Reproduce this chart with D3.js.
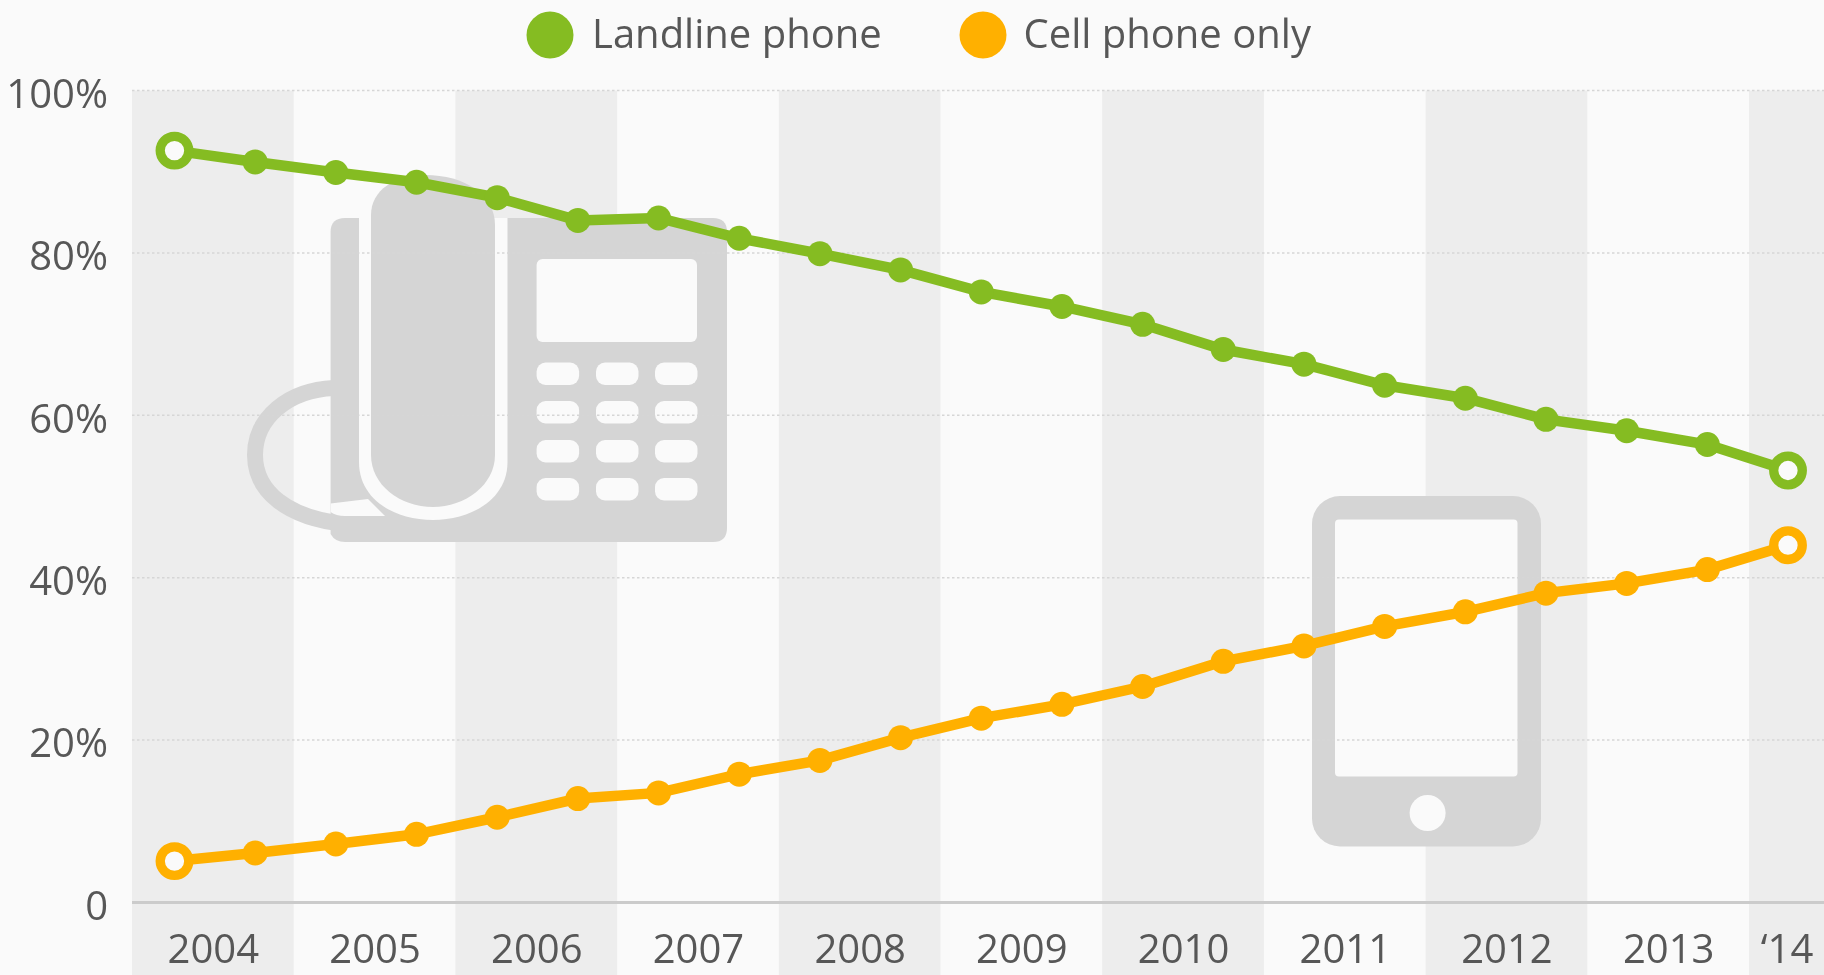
<!DOCTYPE html>
<html><head><meta charset="utf-8">
<script src="https://cdnjs.cloudflare.com/ajax/libs/d3/7.8.5/d3.min.js"></script>
<style>
html,body{margin:0;padding:0;background:#fafafa;overflow:hidden}
svg{display:block;filter:blur(.5px)}
text{font-family:"Open Sans",sans-serif;fill:#575757}
</style></head><body>
<svg id="c" width="1824" height="975"></svg>
<script>
const periods = d3.range(21);
const landline = [92.6,91.2,89.9,88.7,86.8,84.0,84.3,81.8,79.9,77.9,75.2,73.4,71.2,68.1,66.3,63.7,62.1,59.5,58.1,56.4,53.2];
const cellOnly = [5.1,6.1,7.2,8.4,10.5,12.8,13.5,15.8,17.5,20.3,22.7,24.4,26.6,29.7,31.6,34.0,35.8,38.1,39.3,41.0,44.0];
const yearLabels = ["2004","2005","2006","2007","2008","2009","2010","2011","2012","2013","‘14"];
const yTicks = [0,20,40,60,80,100];
const seriesNames = ["Landline phone","Cell phone only"];
const seriesColors = ["#85bc22","#ffb000"];

const W=1824,H=975,BG="#fafafa",BAND="#ededed",ICON="#d5d5d5";
const svg=d3.select("#c");
const x=d3.scaleLinear().domain([0,20]).range([174.5,1788]);
const y=d3.scaleLinear().domain([0,100]).range([902.5,90.5]);
const bandX=d3.scaleLinear().domain([0,10]).range([132,1749]);
svg.append("rect").attr("width",W).attr("height",H).attr("fill",BG);

// year bands
const edges=yearLabels.map((d,i)=>[bandX(i),Math.min(W,bandX(i+1))]);
svg.append("g").selectAll("rect").data(edges.filter((d,i)=>i%2===0)).join("rect")
  .attr("x",d=>d[0]).attr("y",y(100)).attr("width",d=>d[1]-d[0]).attr("height",H-y(100)).attr("fill",BAND);

// decorative icons
const icon=svg.append("g").attr("fill",ICON);
icon.append("path").attr("fill","none").attr("stroke",ICON).attr("stroke-width",16)
  .attr("d","M334,388C288,390 255,418 255,455C255,492 288,518 345,524");
icon.append("path")
  .attr("d","M345,218H713Q727,218 727,232V528Q727,542 713,542H345Q335,542 330.6,534V232Q330.6,218 345,218Z");
const holes=svg.append("g").attr("fill",BG);
holes.append("path").attr("d","M359,218H507.5V462C507.5,500 470,520 433,520C395,520 359,500 359,462Z");
holes.append("path").attr("d","M330.6,503.5L368,499L385,516L345,516Q336,516 330.6,512Z");
holes.append("rect").attr("x",536.6).attr("y",259).attr("width",160.4).attr("height",83).attr("rx",6);
[536.6,596,655].forEach(kx=>[362.5,401,440,478].forEach(ky=>{
  holes.append("rect").attr("x",kx).attr("y",ky).attr("width",42.5).attr("height",22.5).attr("rx",9);
}));
svg.append("path").attr("fill",ICON)
  .attr("d","M371,215C371,190 395,175 425,175C465,175 495,195 495,225V455C495,485 465,507 433,507C400,507 371,485 371,455Z");
const phone=svg.append("g");
phone.append("rect").attr("x",1312).attr("y",496).attr("width",229).attr("height",350.5).attr("rx",28).attr("fill",ICON);
phone.append("rect").attr("x",1335).attr("y",519.5).attr("width",182.5).attr("height",257).attr("rx",4).attr("fill",BG);
phone.append("circle").attr("cx",1427.6).attr("cy",813).attr("r",18).attr("fill",BG);

// grid + y axis
const yAxis=d3.axisLeft(y).tickValues(yTicks).tickSize(0).tickPadding(0)
  .tickFormat(d=>d===0?"0":d+"%");
const gy=svg.append("g").attr("transform","translate(108,0)").call(yAxis);
gy.select(".domain").remove();
gy.selectAll("text").attr("font-size",40).attr("dy","0.42em").style("font-family",'"Open Sans",sans-serif');
svg.append("g").selectAll("line").data(yTicks.filter(d=>d>0)).join("line")
  .attr("x1",132).attr("x2",W).attr("y1",d=>y(d)).attr("y2",d=>y(d))
  .attr("stroke","#d6d6d6").attr("stroke-width",1.5).attr("stroke-dasharray","2.5 2.5");
svg.append("line").attr("x1",132).attr("x2",W).attr("y1",y(0)).attr("y2",y(0))
  .attr("stroke","#cbcbcb").attr("stroke-width",3);

// x axis: labels centred in their year band
const xTickVals=edges.map(d=>x.invert((d[0]+d[1])/2));
const xAxis=d3.axisBottom(x).tickValues(xTickVals).tickSize(0).tickPadding(0)
  .tickFormat((d,i)=>yearLabels[i]);
const gx=svg.append("g").attr("transform","translate(0,963)").call(xAxis);
gx.select(".domain").remove();
gx.selectAll("text").attr("font-size",40).attr("dy",0).attr("y",0).style("font-family",'"Open Sans",sans-serif');

// series
const line=d3.line().x((d,i)=>x(periods[i])).y(d=>y(d));
[landline,cellOnly].forEach((vals,s)=>{
  const g=svg.append("g");
  g.append("path").attr("d",line(vals)).attr("fill","none").attr("stroke",seriesColors[s]).attr("stroke-width",10.5);
  g.selectAll("circle").data(vals).join("circle")
    .attr("cx",(d,i)=>x(periods[i])).attr("cy",d=>y(d))
    .attr("r",(d,i)=>(i===0||i===vals.length-1)?14.3:12.5)
    .attr("fill",(d,i)=>(i===0||i===vals.length-1)?BG:seriesColors[s])
    .attr("stroke",(d,i)=>(i===0||i===vals.length-1)?seriesColors[s]:"none")
    .attr("stroke-width",9.3);
});

// legend
const legendX=[[550,592],[983,1023.5]];
seriesNames.forEach((n,i)=>{
  svg.append("circle").attr("cx",legendX[i][0]).attr("cy",35).attr("r",23.5).attr("fill",seriesColors[i]);
  svg.append("text").attr("x",legendX[i][1]).attr("y",48).attr("font-size",40).text(n);
});
</script>
</body></html>
